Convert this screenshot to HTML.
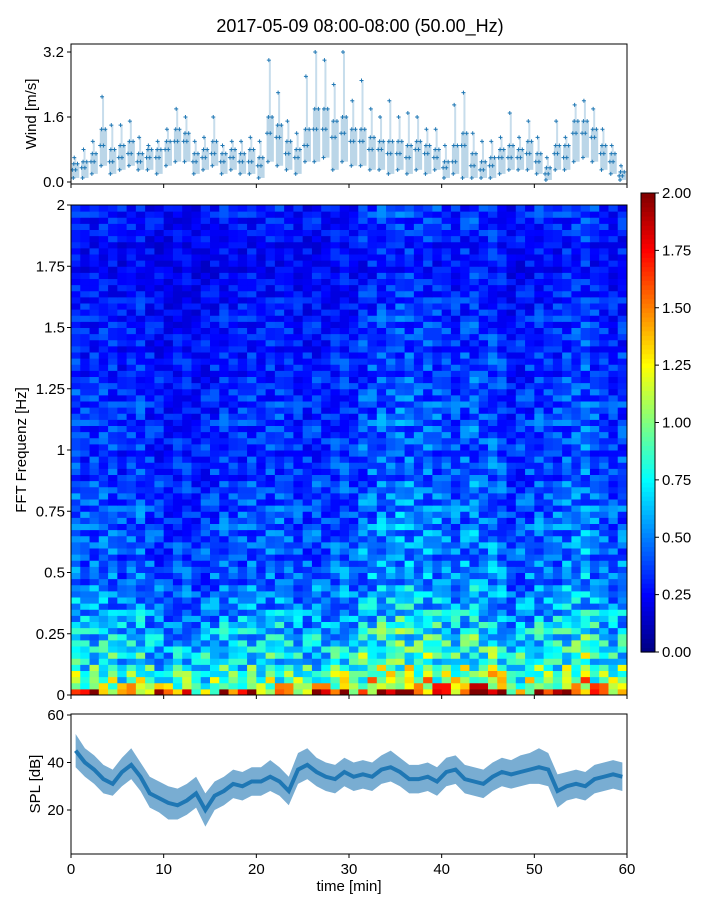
<!DOCTYPE html>
<html><head><meta charset="utf-8">
<style>
body{margin:0;background:#fff;font-family:"Liberation Sans",sans-serif;}
svg text{font-family:"Liberation Sans",sans-serif;fill:#000;}
</style></head>
<body>
<svg id="fig" width="720" height="900" viewBox="0 0 720 900" xmlns="http://www.w3.org/2000/svg">
<rect width="720" height="900" fill="#fff"/>
<text x="360" y="32" font-size="18" text-anchor="middle">2017-05-09 08:00-08:00 (50.00_Hz)</text>
<g id="wind"></g>
<g id="spec"></g>
<g id="cbar"></g>
<g id="spl"></g>
</svg>
<script>
// ---------- data ----------
const windLo = [0.1,0.1,0.2,0.4,0.2,0.3,0.4,0.3,0.3,0.2,0.4,0.5,0.5,0.2,0.3,0.4,0.2,0.3,0.2,0.2,0.1,0.5,0.4,0.3,0.2,0.5,0.5,0.6,0.3,0.5,0.4,0.4,0.3,0.3,0.2,0.3,0.2,0.3,0.2,0.3,0.1,0.2,0.1,0.1,0.1,0.1,0.2,0.3,0.3,0.3,0.2,0.05,0.3,0.3,0.5,0.6,0.5,0.3,0.2,0.05];
const windMid = [0.3,0.35,0.5,0.9,0.5,0.6,0.7,0.5,0.6,0.6,0.8,1.0,1.0,0.5,0.6,0.7,0.5,0.6,0.5,0.5,0.4,1.2,1.1,0.7,0.6,0.9,1.3,1.3,1.1,1.2,1.0,1.0,0.8,0.8,0.7,0.7,0.6,0.8,0.7,0.6,0.35,0.5,0.9,0.4,0.3,0.4,0.6,0.6,0.6,0.7,0.5,0.2,0.7,0.6,1.2,1.2,1.1,0.7,0.5,0.15];
const windUp = [0.45,0.5,0.7,1.3,0.8,0.9,1.0,0.7,0.8,0.8,1.0,1.3,1.2,0.7,0.8,1.0,0.7,0.8,0.7,0.8,0.6,1.6,1.4,1.0,0.8,1.3,1.8,1.8,1.5,1.6,1.3,1.3,1.1,1.0,1.0,1.0,0.9,1.0,0.9,0.8,0.5,0.9,1.2,0.7,0.5,0.6,0.8,0.9,0.8,1.0,0.7,0.35,0.9,0.9,1.5,1.5,1.3,0.9,0.7,0.25];
const windHi = [0.6,0.8,1.0,2.1,1.4,1.4,1.5,1.1,0.9,1.0,1.3,1.8,1.6,1.0,1.1,1.6,0.9,1.0,1.0,1.1,1.0,3.0,2.2,1.5,1.2,2.6,3.2,3.0,2.4,3.2,2.0,2.5,1.8,1.6,2.0,1.6,1.7,1.6,1.3,1.3,0.9,1.9,2.2,1.2,1.0,1.0,1.1,1.7,1.1,1.5,1.1,0.6,1.5,1.1,1.9,2.0,1.8,1.3,0.9,0.4];
const freqProfile = [1.5,1.25,0.95,0.88,0.8,0.75,0.72,0.68,0.64,0.62,0.6,0.58,0.55,0.52,0.5,0.5,0.48,0.47,0.46,0.45,0.44,0.43,0.43,0.42,0.42,0.41,0.4,0.4,0.39,0.39,0.38,0.38,0.38,0.37,0.37,0.36,0.36,0.36,0.35,0.35,0.35,0.35,0.34,0.34,0.34,0.34,0.33,0.33,0.33,0.33,0.32,0.32,0.32,0.32,0.32,0.31,0.31,0.3,0.3,0.3,0.29,0.29,0.28,0.28,0.27,0.27,0.26,0.26,0.26,0.25,0.25,0.25,0.26,0.26,0.27,0.27,0.28,0.28,0.29,0.29];
const rowTexture = [1.0,0.7,1.35,0.9,1.15,0.65,1.4,0.95,0.8,1.2,0.6,1.3,1.0,0.85,1.45,0.75,1.1];
const timeFactor = [1.1,1.0,1.0,1.05,1.0,0.95,1.0,1.05,0.95,0.9,0.9,0.88,0.9,0.92,0.9,0.95,1.0,0.95,1.0,1.0,0.95,1.0,1.05,1.0,0.95,0.95,1.0,1.05,1.0,1.05,1.1,1.15,1.2,1.25,1.2,1.3,1.25,1.2,1.2,1.2,1.15,1.1,1.2,1.25,1.3,1.2,1.1,1.0,1.0,1.05,1.1,1.05,1.1,1.15,1.2,1.25,1.15,1.05,1.0,1.1];
const splMid = [45,40,37,33,31,36,39,34,27,25,23,22,24,27,20,26,28,31,30,32,32,34,32,28,37,39,36,34,33,36,34,35,34,37,38,36,33,33,34,32,36,37,33,32,31,34,36,35,36,37,38,37,28,30,31,30,33,34,35,34];
const splLo = [38,34,31,27,26,30,33,28,21,19,16,16,18,21,13,20,22,25,24,26,26,28,26,22,31,33,30,28,27,30,28,29,28,31,32,30,27,27,28,26,30,31,27,26,25,28,30,29,30,31,31,30,21,24,25,24,27,28,29,28];
const splHi = [52,46,43,39,37,42,46,40,34,32,30,29,31,34,27,32,34,37,36,38,38,41,38,34,44,46,42,40,39,42,40,41,40,43,45,42,39,39,40,38,42,43,39,38,37,40,42,41,43,44,46,44,35,36,37,36,39,40,41,40];
const cbarTicks = ["0.00","0.25","0.50","0.75","1.00","1.25","1.50","1.75","2.00"];
const freqTicks = ["0","0.25","0.5","0.75","1","1.25","1.5","1.75","2"];
const timeTicks = [0,10,20,30,40,50,60];
const windTicks = ["0.0","1.6","3.2"];
const splTicks = [20,40,60];

// ---------- helpers ----------
const NS="http://www.w3.org/2000/svg";
function mk(parent,tag,attrs,txt){const e=document.createElementNS(NS,tag);for(const k in attrs)e.setAttribute(k,attrs[k]);if(txt!==undefined)e.textContent=txt;parent.appendChild(e);return e;}
const X0=71,X1=627;
const xT=t=>X0+t*(X1-X0)/60;
function jet(v){v=Math.max(0,Math.min(1,v));
 const r=Math.max(0,Math.min(1,1.5-Math.abs(4*v-3)));
 const g=Math.max(0,Math.min(1,1.5-Math.abs(4*v-2)));
 const b=Math.max(0,Math.min(1,1.5-Math.abs(4*v-1)));
 return `rgb(${Math.round(r*255)},${Math.round(g*255)},${Math.round(b*255)})`;}
function frame(g,y0,y1,name){const r=mk(g,'rect',{x:X0,y:y0,width:X1-X0,height:y1-y0,fill:'none',stroke:'#000','stroke-width':1});}
function xticks(g,yb,labels){timeTicks.forEach(t=>{const l=mk(g,'line',{x1:xT(t),x2:xT(t),y1:yb,y2:yb+4,stroke:'#000'});
 if(labels){const tx=mk(g,'text',{x:xT(t),y:yb+20,'font-size':15,'text-anchor':'middle'},String(t));}});}

// ---------- wind ----------
(function(){const g=document.getElementById('wind');
 const yW=v=>182-v*40.625;
 windMid.forEach((m,i)=>{
  const b=mk(g,'rect',{x:xT(i)+1,y:yW(windUp[i]),width:xT(1)-X0-2,height:yW(windLo[i])-yW(windUp[i]),fill:'#1f77b4',opacity:0.3});
  
  const b2=mk(g,'rect',{x:xT(i+0.35),y:yW(windHi[i]),width:2,height:yW(windUp[i])-yW(windHi[i]),fill:'#1f77b4',opacity:0.25});
  
  [[windLo[i],0.25],[m,0.5],[windHi[i],0.35],[windUp[i],0.7],[m,0.15],[windUp[i],0.3]].forEach(([v,f])=>{
   const p=mk(g,'path',{d:`M${xT(i+f)-2},${yW(v)}h4M${xT(i+f)},${yW(v)-2}v4`,stroke:'#1f77b4','stroke-width':1});
   });
 });
 frame(g,44,184,'wind-axes');
 xticks(g,184,false);
 windTicks.forEach(s=>{const y=yW(parseFloat(s));mk(g,'line',{x1:X0-4,x2:X0,y1:y,y2:y,stroke:'#000'});
  const t=mk(g,'text',{x:X0-7,y:y+5,'font-size':15,'text-anchor':'end'},s);});
 const yl=mk(g,'text',{x:36,y:114,'font-size':15,'text-anchor':'middle',transform:'rotate(-90 36 114)'},'Wind [m/s]');
 
})();

// ---------- spectrogram ----------
(function(){const g=document.getElementById('spec');
 const Y0=695,Y1=205;const nR=freqProfile.length,nC=timeFactor.length;
 const rh=(Y0-Y1)/nR,cw=(X1-X0)/nC;
 const L=rowTexture.length;
 for(let r=0;r<nR;r++){for(let c=0;c<nC;c++){
  const tex=rowTexture[(r*r*7+c*c*3+r*c*5+r*11+c)%L];
  const v=freqProfile[r]*timeFactor[c]*tex/2;
  const e=mk(g,'rect',{x:X0+c*cw,y:Y0-(r+1)*rh,width:cw+0.5,height:rh+0.5,fill:jet(v)});
  }}
 frame(g,Y1,Y0,'spectrogram-axes');
 xticks(g,Y0,false);
 freqTicks.forEach(s=>{const y=Y0-parseFloat(s)*(Y0-Y1)/2;mk(g,'line',{x1:X0-4,x2:X0,y1:y,y2:y,stroke:'#000'});
  const t=mk(g,'text',{x:X0-6,y:y+5,'font-size':15,'text-anchor':'end'},s);});
 const yl=mk(g,'text',{x:26,y:450,'font-size':15,'text-anchor':'middle',transform:'rotate(-90 26 450)'},'FFT Frequenz [Hz]');
 
})();

// ---------- colorbar ----------
(function(){const g=document.getElementById('cbar');const top=193,bot=652,x=641,w=14;
 for(let i=0;i<100;i++){const e=mk(g,'rect',{x:x,y:bot-(i+1)*(bot-top)/100,width:w,height:(bot-top)/100+0.6,fill:jet((i+0.5)/100)});
  }
 mk(g,'rect',{x:x,y:top,width:w,height:bot-top,fill:'none',stroke:'#000'});
 cbarTicks.forEach(s=>{const y=bot-parseFloat(s)/2*(bot-top);mk(g,'line',{x1:x+w,x2:x+w+4,y1:y,y2:y,stroke:'#000'});
  const t=mk(g,'text',{x:x+w+7,y:y+5,'font-size':15},s);});
})();

// ---------- SPL ----------
(function(){const g=document.getElementById('spl');const yS=d=>857.5-d*2.375;
 let up='',dn='';splHi.forEach((v,i)=>{up+=`${i?'L':'M'}${xT(i+0.5)},${yS(v)}`;});
 for(let i=splLo.length-1;i>=0;i--)dn+=`L${xT(i+0.5)},${yS(splLo[i])}`;
 const band=mk(g,'path',{d:up+dn+'Z',fill:'#1f77b4',opacity:0.6});
 let d='';splMid.forEach((v,i)=>{d+=`${i?'L':'M'}${xT(i+0.5)},${yS(v)}`;});
 const ln=mk(g,'path',{d:d,fill:'none',stroke:'#1f77b4','stroke-width':4});
 frame(g,714,854,'spl-axes');
 xticks(g,854,true);
 splTicks.forEach(v=>{const y=yS(v);mk(g,'line',{x1:X0-4,x2:X0,y1:y,y2:y,stroke:'#000'});
  const t=mk(g,'text',{x:X0-7,y:y+5,'font-size':15,'text-anchor':'end'},String(v));});
 const yl=mk(g,'text',{x:40,y:784,'font-size':15,'text-anchor':'middle',transform:'rotate(-90 40 784)'},'SPL [dB]');
 
 const xl=mk(g,'text',{x:349,y:891,'font-size':15,'text-anchor':'middle'},'time [min]');
 
})();
</script>
</body></html>
